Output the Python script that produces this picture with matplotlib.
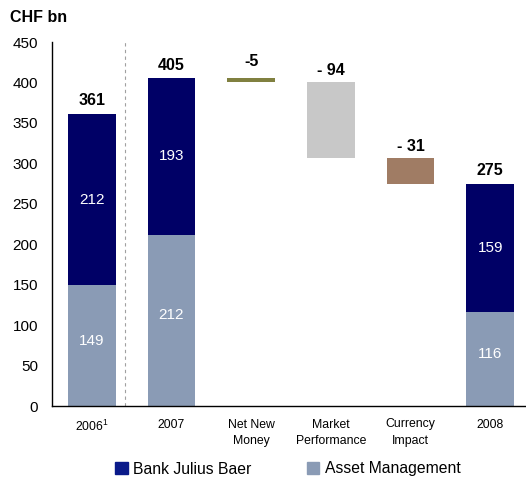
import matplotlib
matplotlib.use("Agg")
import matplotlib.pyplot as plt
from matplotlib.patches import Patch

plt.rcParams['font.family'] = ['Liberation Sans', 'DejaVu Sans']
plt.rcParams['mathtext.fontset'] = 'custom'
plt.rcParams['mathtext.rm'] = 'Liberation Sans'
plt.rcParams['mathtext.it'] = 'Liberation Sans'
plt.rcParams['mathtext.bf'] = 'Liberation Sans:bold'

categories = ['2006$^{1}$', '2007', 'Net New\nMoney', 'Market\nPerformance', 'Currency\nImpact', '2008']
# stacked totals (Asset Management bottom, Bank Julius Baer top)
stack_idx = [0, 1, 5]
asset_mgmt = [149, 212, 116]
bank_jb = [212, 193, 159]
totals = [361, 405, 275]
# waterfall changes
change_idx = [2, 3, 4]
changes = [-5, -94, -31]
change_labels = ['-5', '- 94', '- 31']

c_bjb = '#000066'
c_am = '#8A9BB5'
c_changes = ['#808040', '#C8C8C8', '#A07C64']

fig = plt.figure(figsize=(5.26, 4.82), dpi=100)
ax = fig.add_axes([52/526, 76/482, 1 - 52/526, (406-42)/482])

w = 0.6
ax.bar(stack_idx, asset_mgmt, width=w, color=c_am, zorder=2)
ax.bar(stack_idx, bank_jb, width=w, bottom=asset_mgmt, color=c_bjb, zorder=2)

for x, a, b, t in zip(stack_idx, asset_mgmt, bank_jb, totals):
    ax.text(x, a / 2 + 6, str(a), ha='center', va='center', color='white', fontsize=11)
    ax.text(x, a + b / 2, str(b), ha='center', va='center', color='white', fontsize=11)
    ax.annotate(str(t), (x, t), xytext=(0, 4), textcoords='offset points',
                ha='center', va='bottom', fontsize=11.5, fontweight='bold')

level = totals[1]
offsets = [7, 3, 3]
for x, c, col, lab, off in zip(change_idx, changes, c_changes, change_labels, offsets):
    ax.bar(x, c, width=w, bottom=level, color=col, zorder=2)
    ax.annotate(lab, (x, level), xytext=(0, off), textcoords='offset points',
                ha='center', va='bottom', fontsize=11.5, fontweight='bold')
    level += c

ax.axvline(0.42, color='#A0A0A0', linestyle=(0, (3, 3)), linewidth=0.8, zorder=1)

ax.set_xlim(-0.5, 5.45)
ax.set_ylim(0, 450)
ax.set_yticks(range(0, 451, 50))
ax.tick_params(axis='y', length=0, labelsize=11, pad=10)
ax.set_xticks(range(len(categories)))
ax.set_xticklabels(categories, fontsize=8.8, linespacing=1.45)
ax.tick_params(axis='x', length=0, pad=9)
for s in ['top', 'right']:
    ax.spines[s].set_visible(False)
ax.spines['left'].set_color('black')
ax.spines['bottom'].set_color('black')
ax.spines['left'].set_linewidth(1.0)
ax.spines['bottom'].set_linewidth(1.0)

fig.text(10/526, 1 - 18/482, 'CHF bn', fontsize=11.5, fontweight='bold', va='center', ha='left')

handles = [Patch(color='#0A1A8A', label='Bank Julius Baer'), Patch(color=c_am, label='Asset Management')]
fig.legend(handles=handles, loc='center', bbox_to_anchor=(288/526, 1 - 469/482), ncol=2,
           frameon=False, fontsize=11.3, handlelength=0.8, handleheight=0.8,
           handletextpad=0.35, columnspacing=3.5)

fig.savefig('out.png', dpi=100)
